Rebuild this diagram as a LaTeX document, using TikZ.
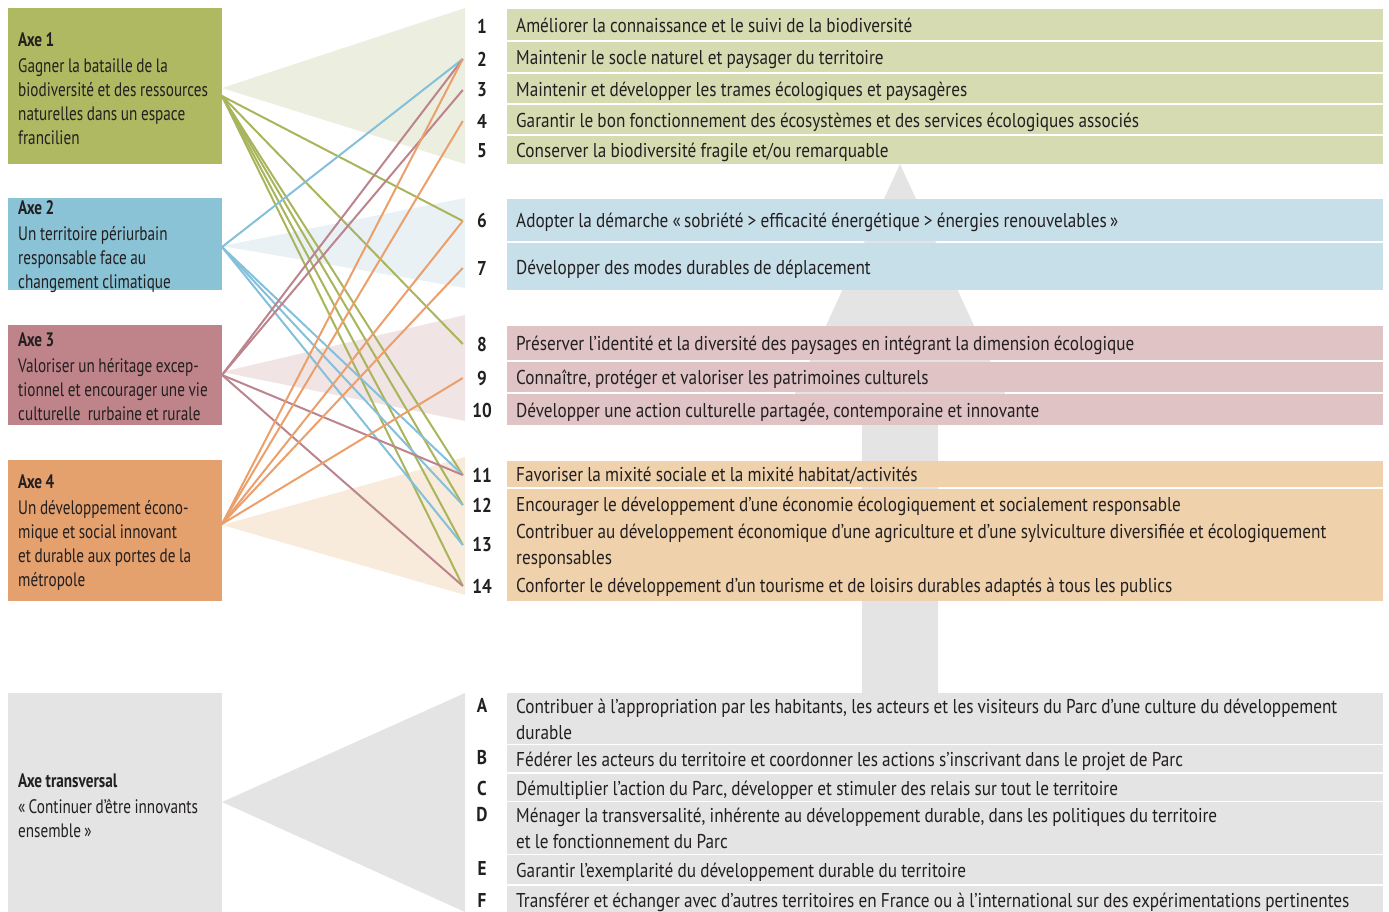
\documentclass[tikz,border=0pt]{standalone}
\usepackage{fontspec}
\setmainfont[FakeStretch=0.86]{PT Sans}
\newfontfamily\boxfont[FakeStretch=0.78]{PT Sans}
\usetikzlibrary{positioning}

\newcommand\rowfont{\fontsize{20}{26}\selectfont\spaceskip=4.2pt plus 1pt minus 0.5pt\relax}
\newcommand\labfont{\boxfont\fontsize{19.5}{24}\selectfont\spaceskip=3.6pt plus 1pt minus 0.5pt\relax}

\definecolor{txt}{HTML}{231F20}
\definecolor{vertA}{HTML}{AFB962}
\definecolor{vertB}{HTML}{D6DBB2}
\definecolor{vertC}{HTML}{ECEEDF}
\definecolor{vertL}{HTML}{A9B55C}
\definecolor{bleuA}{HTML}{8AC2D6}
\definecolor{bleuB}{HTML}{C7DFE9}
\definecolor{bleuC}{HTML}{E9F1F5}
\definecolor{bleuL}{HTML}{84C0DA}
\definecolor{roseA}{HTML}{BF848A}
\definecolor{roseB}{HTML}{DFC3C5}
\definecolor{roseC}{HTML}{F1E4E5}
\definecolor{roseL}{HTML}{BC848C}
\definecolor{orA}{HTML}{E4A06D}
\definecolor{orB}{HTML}{EFD1AB}
\definecolor{orC}{HTML}{F8EBDC}
\definecolor{orL}{HTML}{EBA06C}
\definecolor{gris}{HTML}{E3E4E3}

\begin{document}
\begin{tikzpicture}[x=1pt, y=-1pt, text=txt,
  axebox/.style={anchor=north west, inner sep=0pt, minimum width=214pt},
  axelab/.style={align=flush left, inner sep=0pt, yshift=-2pt, font=\labfont},
  rowbox/.style={anchor=west, inner xsep=9pt, inner ysep=0pt, text width=858pt, align=flush left, font=\rowfont,
    execute at begin node={\rule{0pt}{20.5pt}}, execute at end node={\rule[-5pt]{0pt}{5pt}}},
  num/.style={inner sep=0pt, minimum width=38pt, font=\fontsize{20}{26}\selectfont\bfseries},
  lnk/.style={line width=2pt}]

\useasboundingbox (0,0) rectangle (1389,912);

\fill[gris] (862,693) -- (862,400) -- (792,400) -- (900,164) -- (1008,400) -- (938,400) -- (938,693) -- cycle;

\fill[vertC] (222,88) -- (465,8) -- (465,164) -- cycle;
\fill[bleuC] (222,246) -- (465,198) -- (465,288) -- cycle;
\fill[roseC] (222,372) -- (465,315) -- (465,421) -- cycle;
\fill[orC] (222,525) -- (465,457) -- (465,595) -- cycle;
\fill[gris] (222,802) -- (465,693) -- (465,912) -- cycle;

\node[axebox, fill=vertA, minimum height=156pt] (axe1) at (8,8) {};
\node[axebox, fill=bleuA, minimum height=92pt] (axe2) at (8,198) {};
\node[axebox, fill=roseA, minimum height=100pt] (axe3) at (8,325) {};
\node[axebox, fill=orA, minimum height=141pt] (axe4) at (8,460) {};
\node[axebox, fill=gris, minimum height=222pt] (axet) at (8,693) {};

\node[axelab, right=10pt of axe1.west] (lab1) {\textbf{Axe 1}\\[2pt]Gagner la bataille de la\\biodiversité et des ressources\\naturelles dans un espace\\francilien};
\node[axelab, right=10pt of axe2.west] (lab2) {\textbf{Axe 2}\\[2pt]Un territoire périurbain\\responsable face au\\changement climatique};
\node[axelab, right=10pt of axe3.west] (lab3) {\textbf{Axe 3}\\[2pt]Valoriser un héritage excep-\\tionnel et encourager une vie\\culturelle\ \ rurbaine et rurale};
\node[axelab, right=10pt of axe4.west] (lab4) {\textbf{Axe 4}\\[2pt]Un développement écono-\\mique et social innovant\\et durable aux portes de la\\métropole};
\node[axelab, right=10pt of axet.west] (labt) {\textbf{Axe transversal}\\[2pt]«\,Continuer d’être innovants\\ensemble\,»};

\node[rowbox, fill=vertB, minimum height=31pt] (r1) at (507,24.5) {Améliorer la connaissance et le suivi de la biodiversité};
\node[rowbox, fill=vertB, minimum height=30pt] (r2) at (507,57) {Maintenir le socle naturel et paysager du territoire};
\node[rowbox, fill=vertB, minimum height=29pt] (r3) at (507,88.5) {Maintenir et développer les trames écologiques et paysagères};
\node[rowbox, fill=vertB, minimum height=29pt] (r4) at (507,119.5) {Garantir le bon fonctionnement des écosystèmes et des services écologiques associés};
\node[rowbox, fill=vertB, minimum height=28pt] (r5) at (507,150) {Conserver la biodiversité fragile et/ou remarquable};
\node[rowbox, fill=bleuB, minimum height=42pt] (r6) at (507,220) {Adopter la démarche «\,sobriété > efficacité énergétique > énergies renouvelables\,»};
\node[rowbox, fill=bleuB, minimum height=47pt] (r7) at (507,266.5) {Développer des modes durables de déplacement};
\node[rowbox, fill=roseB, minimum height=34pt] (r8) at (507,343) {Préserver l’identité et la diversité des paysages en intégrant la dimension écologique};
\node[rowbox, fill=roseB, minimum height=30pt] (r9) at (507,377) {Connaître, protéger et valoriser les patrimoines culturels};
\node[rowbox, fill=roseB, minimum height=31pt] (r10) at (507,409.5) {Développer une action culturelle partagée, contemporaine et innovante};
\node[rowbox, fill=orB, minimum height=26pt] (r11) at (507,474) {Favoriser la mixité sociale et la mixité habitat/activités};
\node[rowbox, fill=orB, minimum height=29pt] (r12) at (507,503.5) {Encourager le développement d’une économie écologiquement et socialement responsable};
\node[rowbox, fill=orB, minimum height=47pt] (r13) at (507,543.5) {Contribuer au développement économique d’une agriculture et d’une sylviculture diversifiée et écologiquement\\responsables};
\node[rowbox, fill=orB, minimum height=32pt] (r14) at (507,585) {Conforter le développement d’un tourisme et de loisirs durables adaptés à tous les publics};
\node[rowbox, fill=gris, minimum height=49pt] (rA) at (507,718.5) {Contribuer à l’appropriation par les habitants, les acteurs et les visiteurs du Parc d’une culture du développement\\durable};
\node[rowbox, fill=gris, minimum height=27pt] (rB) at (507,758.5) {Fédérer les acteurs du territoire et coordonner les actions s’inscrivant dans le projet de Parc};
\node[rowbox, fill=gris, minimum height=27pt] (rC) at (507,787.5) {Démultiplier l’action du Parc, développer et stimuler des relais sur tout le territoire};
\node[rowbox, fill=gris, minimum height=50pt] (rD) at (507,828) {Ménager la transversalité, inhérente au développement durable, dans les politiques du territoire\\et le fonctionnement du Parc};
\node[rowbox, fill=gris, minimum height=29pt] (rE) at (507,869.5) {Garantir l’exemplarité du développement durable du territoire};
\node[rowbox, fill=gris, minimum height=27pt] (rF) at (507,899.5) {Transférer et échanger avec d’autres territoires en France ou à l’international sur des expérimentations pertinentes};

\foreach \k/\yc in {1/26, 2/59, 3/90, 4/121, 5/151, 6/221, 7/268, 8/344, 9/378, 10/410, 11/475, 12/505, 13/545, 14/586, A/705, B/757, C/788, D/815, E/868, F/900}
  \node[num] (n\k) at (482,\yc) {\k};

\coordinate (s1) at (222,96);
\coordinate (s2) at (222,247);
\coordinate (s3) at (222,375);
\coordinate (s4) at (222,524);

\foreach \k in {6,8,11,12,13,14}
  \draw[lnk, vertL] (s1) -- (n\k.west);
\foreach \k in {2,11,12,13}
  \draw[lnk, bleuL] (s2) -- (n\k.west);
\foreach \k in {2,3,11,14}
  \draw[lnk, roseL] (s3) -- (n\k.west);
\foreach \k in {2,4,6,7,9}
  \draw[lnk, orL] (s4) -- (n\k.west);

\end{tikzpicture}
\end{document}
